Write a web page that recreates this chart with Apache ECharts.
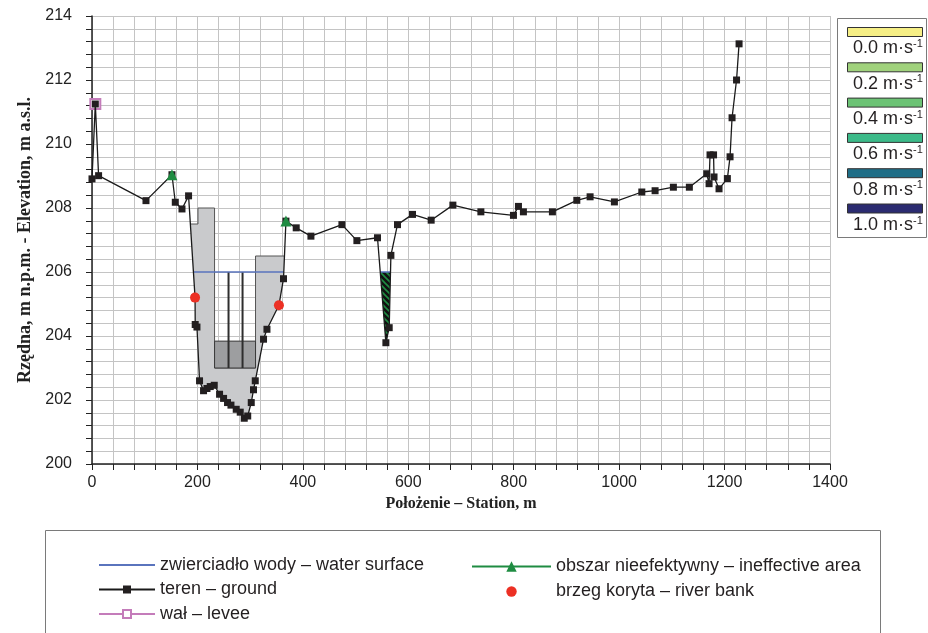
<!DOCTYPE html>
<html>
<head>
<meta charset="utf-8">
<script src="https://cdn.jsdelivr.net/npm/echarts@6/dist/echarts.min.js"></script>
<style>
  html, body { margin: 0; padding: 0; background: #fff; }
  #chart { width: 928px; height: 633px; }
</style>
</head>
<body>
<div id="chart"></div>
<script>
// Cross-section survey: station (m) and elevation (m a.s.l.)
const groundStation = [
  0, 6.3, 12.5, 102.4, 151.7, 158.0, 170.7, 183.2, 195.5, 195.8, 199.1,
  204.0, 211.6, 218.1, 224.3, 231.9, 242.0, 249.6, 257.1, 263.6, 273.6,
  281.2, 288.8, 295.4, 302.1, 306.4, 309.7, 325.4, 331.9, 354.6, 363.3,
  367.9, 387.4, 415.3, 474.1, 502.5, 541.6, 557.5, 563.8, 567.0, 579.5,
  608.0, 643.4, 684.6, 737.7, 799.5, 809.0, 818.4, 873.4, 919.7, 944.9,
  991.0, 1043.0, 1068.2, 1102.9, 1133.2, 1166.2, 1170.6, 1172.4, 1179.1,
  1180.0, 1189.5, 1205.3, 1210.4, 1214.2, 1222.7, 1227.5
];
const groundElevation = [
  208.91, 211.25, 209.01, 208.23, 209.04, 208.18, 207.97, 208.38, 205.20, 204.36, 204.28,
  202.60, 202.29, 202.36, 202.42, 202.46, 202.18, 202.05, 201.92, 201.84, 201.71,
  201.62, 201.43, 201.50, 201.92, 202.32, 202.60, 203.90, 204.21, 204.96, 205.79,
  207.59, 207.38, 207.12, 207.48, 206.98, 207.07, 203.79, 204.26, 206.52, 207.48,
  207.80, 207.62, 208.09, 207.88, 207.77, 208.05, 207.88, 207.88, 208.24, 208.35,
  208.19, 208.50, 208.54, 208.65, 208.65, 209.07, 208.76, 209.66, 209.66,
  208.97, 208.60, 208.92, 209.60, 210.82, 212.00, 213.13
];

// Levee crest
const leveeStation = [6.3];
const leveeElevation = [211.25];

// Main channel bank stations
const bankStation = [195.5, 354.6];
const bankElevation = [205.20, 204.96];

// Ineffective flow area limits
const ineffStation = [151.7, 367.9];
const ineffElevation = [209.04, 207.59];

// Water surface: level and wetted extents [from, to]
const waterLevel = 206.0;
const waterExtents = [[192.4, 363.8], [546.8, 566.3]];
// the second extent lies inside the ineffective area (hatched)
const ineffectiveWaterExtent = [546.8, 566.3];

// Bridge: upper edge of the deck / abutment fill, left to right
const bridgeOutlineStation = [186.7, 201.0, 201.0, 232.5, 232.5, 310.2, 310.2, 365.1];
const bridgeOutlineElevation = [207.5, 207.5, 208.0, 208.0, 203.0, 203.0, 206.5, 206.5];

// Piers
const pierStation = [259.0, 285.6];
const pierBottom = 203.0;
const pierTop = 206.0;

// Blocked part of the bridge opening
const blockedStation = [232.5, 310.2];
const blockedElevation = [203.0, 203.84];

// Velocity colour scale
const velocityValues = ['0.0', '0.2', '0.4', '0.6', '0.8', '1.0'];
const velocityColors = ['#f6ef86', '#a0d27c', '#6cc375', '#3cba89', '#1f6e87', '#2b2b70'];

// Axis ranges
const xMin = 0, xMax = 1400, xStep = 200;
const yMin = 200, yMax = 214, yStep = 2;

const names = {
  water: 'zwierciadło wody – water surface',
  ground: 'teren – ground',
  levee: 'wał – levee',
  ineff: 'obszar nieefektywny – ineffective area',
  bank: 'brzeg koryta – river bank'
};

const zip = (a, b) => a.map((v, i) => [v, b[i]]);
const ground = zip(groundStation, groundElevation);

// Polygon between the bridge outline (top) and the ground (bottom)
const bridgeTop = zip(bridgeOutlineStation, bridgeOutlineElevation);
const bx0 = bridgeOutlineStation[0], bx1 = bridgeOutlineStation[bridgeOutlineStation.length - 1];
const bridgeBottom = ground.filter(p => p[0] > bx0 && p[0] < bx1).reverse();
const bridgePolygon = bridgeTop.concat(bridgeBottom);

// Water inside the ineffective area
const hatchPolygon = [[ineffectiveWaterExtent[0], waterLevel]]
  .concat(ground.filter(p => p[0] > ineffectiveWaterExtent[0] && p[0] < ineffectiveWaterExtent[1]))
  .concat([[ineffectiveWaterExtent[1], waterLevel]]);

// Water line segments separated by gaps
const waterData = [];
waterExtents.forEach((e, i) => {
  if (i > 0) waterData.push('-');
  waterData.push([e[0], waterLevel], [e[1], waterLevel]);
});
const withGaps = (xs, ys) => {
  const out = [];
  xs.forEach((x, i) => { if (i > 0) out.push('-'); out.push([x, ys[i]]); });
  return out;
};

function hatchPattern() {
  const c = document.createElement('canvas');
  c.width = 6; c.height = 6;
  const g = c.getContext('2d');
  g.fillStyle = '#111';
  g.fillRect(0, 0, 6, 6);
  g.strokeStyle = '#1f8c42';
  g.lineWidth = 1.6;
  g.beginPath();
  g.moveTo(-3, -3); g.lineTo(9, 9);
  g.moveTo(-6, 0); g.lineTo(6, 12);
  g.moveTo(0, -6); g.lineTo(12, 6);
  g.stroke();
  return c;
}
const hatch = hatchPattern();

const SANS = 'Liberation Sans, Arial, sans-serif';
const SERIF = 'Liberation Serif, Times New Roman, serif';
const gridColor = '#c4c4c4';
const axisColor = '#222';

const polyRender = (pts, style) => (params, api) => ({
  type: 'polygon',
  shape: { points: pts.map(p => api.coord(p)) },
  style: style
});

// Velocity legend drawn as a boxed list of swatches
const velocityGraphics = [{
  type: 'rect',
  shape: { x: 837.5, y: 18.5, width: 89, height: 219 },
  style: { fill: '#fff', stroke: '#7a7a7a', lineWidth: 1 },
  z: 10
}];
velocityValues.forEach((v, i) => {
  const top = 27.5 + 35.3 * i;
  velocityGraphics.push({
    type: 'rect',
    shape: { x: 847.5, y: top, width: 75, height: 9 },
    style: { fill: velocityColors[i], stroke: '#333', lineWidth: 1 },
    z: 11
  });
  velocityGraphics.push({
    type: 'text',
    x: 853, y: top + 21,
    style: {
      text: '{v|' + v + ' m·s}{s|-1}',
      verticalAlign: 'middle',
      rich: {
        v: { fontSize: 18, fontFamily: SANS, fill: '#231f20', lineHeight: 20 },
        s: { fontSize: 11, fontFamily: SANS, fill: '#231f20', verticalAlign: 'top', lineHeight: 20 }
      }
    },
    z: 11
  });
});

const chart = echarts.init(document.getElementById('chart'), null, { renderer: 'canvas' });

chart.setOption({
  animation: false,
  backgroundColor: '#fff',
  grid: { left: 92, right: 98, top: 16, bottom: 169, containLabel: false },
  xAxis: {
    type: 'value', min: xMin, max: xMax, interval: xStep,
    name: 'Położenie – Station, m', nameLocation: 'middle', nameGap: 20,
    nameTextStyle: { fontFamily: SERIF, fontWeight: 'bold', fontSize: 16, color: axisColor },
    axisLine: { show: true, onZero: false, lineStyle: { color: axisColor, width: 1.5 } },
    axisTick: { show: true, length: 6, lineStyle: { color: axisColor, width: 1 } },
    minorTick: { show: true, splitNumber: 5, length: 6, lineStyle: { color: axisColor, width: 1 } },
    splitLine: { show: true, lineStyle: { color: gridColor, width: 1 } },
    minorSplitLine: { show: true, lineStyle: { color: gridColor, width: 1 } },
    axisLabel: { fontFamily: SANS, fontSize: 16, color: axisColor, margin: 11, formatter: v => String(v) }
  },
  yAxis: {
    type: 'value', min: yMin, max: yMax, interval: yStep,
    name: 'Rzędna, m n.p.m. - Elevation, m a.s.l.', nameLocation: 'middle', nameGap: 52,
    nameTextStyle: { fontFamily: SERIF, fontWeight: 'bold', fontSize: 18, color: axisColor },
    axisLine: { show: true, onZero: false, lineStyle: { color: axisColor, width: 1.5 } },
    axisTick: { show: true, length: 6, lineStyle: { color: axisColor, width: 1 } },
    minorTick: { show: true, splitNumber: 5, length: 6, lineStyle: { color: axisColor, width: 1 } },
    splitLine: { show: true, lineStyle: { color: gridColor, width: 1 } },
    minorSplitLine: { show: true, lineStyle: { color: gridColor, width: 1 } },
    axisLabel: { fontFamily: SANS, fontSize: 16, color: axisColor, margin: 20, formatter: v => String(v) }
  },
  legend: [{
    orient: 'vertical', left: 98, top: 556, padding: 0, itemGap: 6.5,
    itemWidth: 56, itemHeight: 10, selectedMode: false,
    textStyle: { fontFamily: SANS, fontSize: 18, color: '#231f20' },
    data: [
      { name: names.water, itemStyle: { opacity: 0 } },
      names.ground,
      names.levee
    ]
  }, {
    orient: 'vertical', left: 471, top: 557.5, padding: 0, itemGap: 7,
    itemWidth: 79, itemHeight: 13, selectedMode: false,
    textStyle: { fontFamily: SANS, fontSize: 18, color: '#231f20' },
    data: [names.ineff, names.bank]
  }],
  graphic: [{
    type: 'rect',
    shape: { x: 45.5, y: 530.5, width: 835, height: 120 },
    style: { fill: 'none', stroke: '#7a7a7a', lineWidth: 1 },
    z: 0
  }].concat(velocityGraphics),
  series: [
    {
      // bridge deck and abutments
      type: 'custom', coordinateSystem: 'cartesian2d', silent: true, z: 1,
      data: [bridgePolygon[0]],
      renderItem: (params, api) => ({
        type: 'group',
        children: [
          polyRender(bridgePolygon, { fill: '#c9cacc' })(params, api),
          {
            type: 'polyline',
            shape: { points: bridgeTop.map(p => api.coord(p)) },
            style: { stroke: '#555', lineWidth: 1, fill: null }
          }
        ]
      })
    },
    {
      // blocked opening and piers
      type: 'custom', coordinateSystem: 'cartesian2d', silent: true, z: 2,
      data: [[blockedStation[0], blockedElevation[0]]],
      renderItem: (params, api) => {
        const a = api.coord([blockedStation[0], blockedElevation[1]]);
        const b = api.coord([blockedStation[1], blockedElevation[0]]);
        const children = [{
          type: 'rect',
          shape: { x: a[0], y: a[1], width: b[0] - a[0], height: b[1] - a[1] },
          style: { fill: '#9d9ea0', stroke: '#3a3a3a', lineWidth: 1 }
        }];
        pierStation.forEach(s => {
          const p0 = api.coord([s, pierBottom]);
          const p1 = api.coord([s, pierTop]);
          children.push({
            type: 'line',
            shape: { x1: p0[0], y1: p0[1], x2: p1[0], y2: p1[1] },
            style: { stroke: '#2e2e2e', lineWidth: 2 }
          });
        });
        return { type: 'group', children };
      }
    },
    {
      // water within the ineffective area
      type: 'custom', coordinateSystem: 'cartesian2d', silent: true, z: 2,
      data: [hatchPolygon[0]],
      renderItem: polyRender(hatchPolygon, { fill: { image: hatch, repeat: 'repeat' } })
    },
    {
      name: names.water, type: 'line', z: 3, silent: true,
      data: waterData, symbol: 'none', connectNulls: false,
      lineStyle: { color: '#5a74bd', width: 1.5 },
      itemStyle: { color: '#5a74bd' }
    },
    {
      name: names.levee, type: 'line', z: 4, silent: true,
      data: zip(leveeStation, leveeElevation),
      symbol: 'emptyRect', symbolSize: 10, showAllSymbol: true,
      lineStyle: { color: '#c47cba', width: 1.2 },
      itemStyle: { color: '#c47cba', borderWidth: 1.2 }
    },
    {
      name: names.ground, type: 'line', z: 5, silent: true,
      data: ground, symbol: 'rect', symbolSize: 7, showAllSymbol: true,
      lineStyle: { color: '#1a1a1a', width: 1.3 },
      itemStyle: { color: '#231f20' }
    },
    {
      name: names.ineff, type: 'line', z: 6, silent: true,
      data: withGaps(ineffStation, ineffElevation), connectNulls: false,
      symbol: 'triangle', symbolSize: 11, showAllSymbol: true,
      lineStyle: { color: '#1f8c42', width: 1.2 },
      itemStyle: { color: '#1f8c42' }
    },
    {
      name: names.bank, type: 'line', z: 6, silent: true,
      data: withGaps(bankStation, bankElevation), connectNulls: false,
      symbol: 'circle', symbolSize: 10, showAllSymbol: true,
      lineStyle: { color: '#ec3024', width: 1, opacity: 0 },
      itemStyle: { color: '#ec3024' }
    }
  ]
});
</script>
</body>
</html>
